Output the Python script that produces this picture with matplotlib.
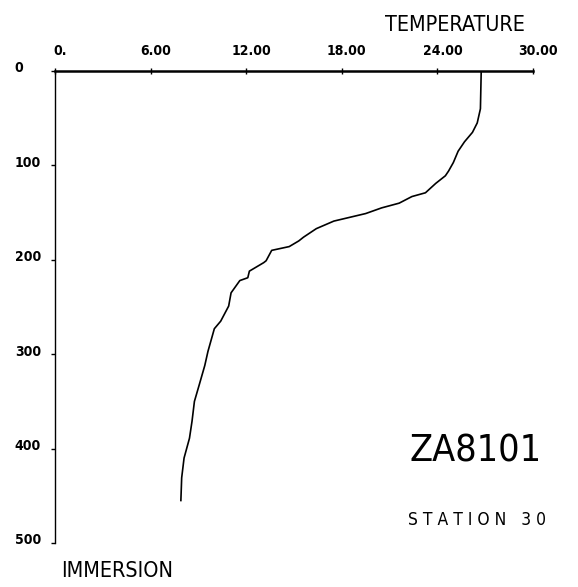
import matplotlib
matplotlib.use("Agg")
import matplotlib.pyplot as plt
import matplotlib.transforms as mtransforms

# Temperature profile
temperature = [26.75, 26.7, 26.5, 26.2, 25.7, 25.3, 25.0, 24.7, 24.5, 23.9, 23.25, 22.4, 21.6, 20.5,
               19.5, 18.5, 17.5, 16.4, 15.6, 15.3, 14.7, 13.6, 13.25, 13.1, 12.2,
               12.1, 11.6, 11.05, 10.9, 10.4, 10.0, 9.6, 9.4, 9.06, 8.75, 8.6,
               8.44, 8.1, 7.95, 7.9]
immersion = [0, 40, 55, 65, 75, 85, 97, 106, 111, 119, 129, 133, 140, 145,
             151, 155, 159, 167, 176, 180, 186, 190, 201, 203, 212,
             219, 222, 235, 249, 265, 273, 297, 312, 332, 350, 371,
             389, 410, 431, 455]

x_ticks = [0, 6, 12, 18, 24, 30]
x_tick_labels = ["0.", "6.00", "12.00", "18.00", "24.00", "30.00"]
y_ticks = [0, 100, 200, 300, 400, 500]
y_tick_labels = ["0", "100", "200", "300", "400", "500"]

FONT = "DejaVu Sans"
fig = plt.figure(figsize=(5.78, 5.87), dpi=100)
ax = fig.add_axes([55/578, 1 - 543/587, 478/578, 472/587])

ax.plot(temperature, immersion, color="black", lw=1.2)

ax.set_xlim(0, 30)
ax.set_ylim(500, 0)

for s in ["right", "bottom"]:
    ax.spines[s].set_visible(False)
ax.spines["top"].set_linewidth(1.8)
ax.spines["left"].set_linewidth(1.0)

ax.xaxis.tick_top()
ax.set_xticks(x_ticks)
ax.set_xticklabels(x_tick_labels, fontsize=10, fontweight="bold", family=FONT, fontstretch="condensed")
ax.tick_params(axis="x", direction="inout", length=5, width=1.0, pad=7)
for lab in ax.get_xticklabels():
    lab.set_transform(lab.get_transform() + mtransforms.ScaledTranslation(0.05, 0.0, fig.dpi_scale_trans))

ax.set_yticks(y_ticks)
ax.set_yticklabels(y_tick_labels, fontsize=10, fontweight="bold", family=FONT, fontstretch="condensed")
ax.tick_params(axis="y", direction="out", length=3, width=1.0, pad=26)
for lab in ax.get_yticklabels():
    lab.set_horizontalalignment("left")
    lab.set_transform(lab.get_transform() + mtransforms.ScaledTranslation(0.0, 0.04, fig.dpi_scale_trans))

fig.text(455/578, 1 - 25/587, "TEMPERATURE", fontsize=15.5, family=FONT, fontstretch="condensed",
         ha="center", va="center")
fig.text(117/578, 1 - 571/587, "IMMERSION", fontsize=15.5, family=FONT, fontstretch="condensed",
         ha="center", va="center")
fig.text(476/578, 1 - 452/587, "ZA8101", fontsize=27, family=FONT, fontstretch="condensed",
         ha="center", va="center")
fig.text(477/578, 1 - 520/587, "S T A T I O N   3 0", fontsize=12.5, family=FONT, fontstretch="condensed",
         ha="center", va="center")

fig.savefig("out.png", dpi=100, facecolor="white")
